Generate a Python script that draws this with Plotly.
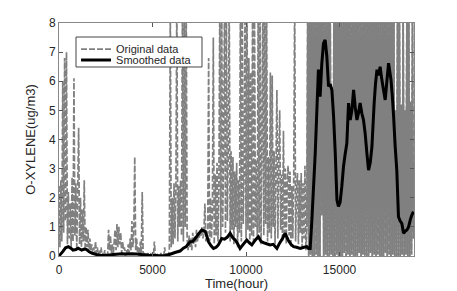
import plotly.graph_objects as go

# Original hourly data (sampled every 50 hours), ug/m3
orig_hours = list(range(0, 19000, 50))
orig_values = [
    2.4, 0.3, 2.6, 0.5, 6.0, 0.8, 6.8, 1.2, 7.0, 0.4,
    2.2, 0.6, 1.8, 0.3, 2.7, 0.5, 6.1, 0.7, 2.5, 0.2,
    2.3, 4.4, 0.4, 2.0, 0.3, 1.6, 0.5, 2.6, 0.2, 1.0,
    0.3, 0.9, 0.1, 0.6, 0.2, 0.4, 0.1, 0.3, 0.05, 0.5,
    0.1, 0.3, 0.0, 0.2, 0.1, 0.3, 0.0, 0.1, 0.0, 0.2,
    0.0, 0.1, 0.0, 0.9, 0.2, 0.7, 0.1, 0.4, 0.0, 0.5,
    0.9, 0.2, 1.1, 0.3, 1.0, 0.4, 0.8, 0.1, 0.5, 0.2,
    0.3, 0.0, 0.2, 0.0, 0.4, 0.1, 0.6, 0.2, 1.2, 0.3,
    0.9, 3.4, 0.2, 0.6, 0.1, 0.3, 0.0, 0.5, 0.1, 2.2,
    0.0, 0.1, 0.0, 0.05, 0.0, 0.1, 0.0, 0.0, 0.1, 0.0,
    0.0, 0.0, 0.5, 0.0, 0.0, 0.05, 0.0, 0.0, 0.0, 0.1,
    0.0, 0.0, 0.0, 0.3, 0.0, 0.0, 0.1, 0.0, 0.2, 8.5,
    0.3, 2.0, 0.4, 2.5, 0.6, 2.3, 9.0, 0.5, 2.4, 1.0,
    2.6, 0.7, 9.0, 0.5, 9.0, 1.0, 9.0, 0.6, 0.2, 0.7,
    0.3, 0.6, 0.2, 0.8, 0.4, 0.7, 0.3, 0.9, 0.5, 0.8,
    0.6, 0.9, 0.7, 1.0, 0.6, 0.9, 1.8, 0.5, 0.8, 0.8,
    6.8, 0.5, 2.0, 0.6, 1.5, 7.5, 0.4, 2.8, 0.7, 3.2,
    0.5, 2.5, 9.0, 0.6, 9.0, 1.0, 3.5, 9.0, 0.8, 9.0,
    1.2, 3.7, 9.0, 0.5, 3.6, 0.9, 3.4, 0.4, 2.9, 1.0,
    3.2, 0.3, 2.6, 0.8, 9.0, 0.5, 9.0, 1.1, 3.0, 9.0,
    0.6, 9.0, 0.9, 6.8, 0.4, 6.3, 0.7, 9.0, 0.5, 9.0,
    1.0, 3.3, 0.6, 9.0, 0.8, 9.0, 0.4, 3.8, 9.0, 0.7,
    9.0, 1.1, 9.0, 0.5, 3.4, 0.8, 6.3, 0.6, 6.2, 1.0,
    3.6, 0.4, 3.1, 5.7, 0.6, 3.3, 5.0, 0.9, 2.8, 0.5,
    4.3, 0.8, 3.0, 0.4, 2.6, 3.1, 0.7, 2.9, 0.3, 2.4,
    0.6, 2.7, 9.0, 0.5, 2.2, 2.85, 0.4, 2.6, 0.8, 2.85,
    0.3, 2.5, 0.6, 3.1, 0.2, 1.0, 9.0, 0.0, 9.0, 0.05,
    9.0, 0.0, 9.0, 0.0, 9.0, 0.05, 9.0, 0.0, 9.0, 0.0,
    9.0, 1.4, 9.0, 0.0, 9.0, 0.05, 9.0, 0.0, 9.0, 0.0,
    9.0, 0.05, 5.8, 0.0, 9.0, 0.0, 9.0, 0.05, 9.0, 0.0,
    9.0, 0.0, 9.0, 0.0, 9.0, 0.1, 9.0, 0.0, 9.0, 0.05,
    9.0, 0.0, 9.0, 0.05, 9.0, 0.0, 9.0, 0.0, 9.0, 0.0,
    9.0, 0.1, 9.0, 0.0, 9.0, 0.05, 9.0, 0.0, 9.0, 0.0,
    9.0, 0.0, 9.0, 0.1, 9.0, 0.0, 9.0, 0.05, 9.0, 0.0,
    9.0, 0.05, 9.0, 0.0, 9.0, 0.0, 9.0, 0.0, 9.0, 0.1,
    9.0, 0.0, 9.0, 0.05, 9.0, 0.0, 9.0, 0.05, 9.0, 0.0,
    5.0, 0.0, 9.0, 0.0, 9.0, 0.0, 5.2, 0.05, 9.0, 0.0,
    5.0, 0.05, 9.0, 0.0, 9.0, 0.0, 5.3, 0.05, 9.0, 0.6,
]
# start index of the densely sampled high-concentration period (~13250 h)
dense_start = 265

# Smoothed series
smooth_hours = [
    0, 50, 200, 350, 500, 650, 750, 900, 1030, 1210, 1350, 1480, 1600, 1750,
    2000, 2280, 2600, 2900, 3350, 3600, 3890, 4150, 4420, 4800, 5130, 5400,
    5670, 5940, 6200, 6470, 6650, 6800, 7010, 7150, 7280, 7450, 7630, 7810,
    7900, 7990, 8130, 8260, 8400, 8520, 8700, 8850, 9000, 9150, 9300, 9420,
    9550, 9680, 9850, 10040, 10180, 10310, 10500, 10660, 10800, 10930, 11100,
    11290, 11450, 11650, 11800, 11950, 12090, 12250, 12400, 12540, 12700,
    12900, 13100, 13250, 13340, 13430, 13520, 13700, 13870, 13960, 14050,
    14140, 14230, 14320, 14410, 14500, 14590, 14680, 14770, 14860, 14940,
    15030, 15120, 15210, 15300, 15390, 15480, 15570, 15660, 15750, 15840,
    15930, 16010, 16100, 16190, 16280, 16370, 16460, 16550, 16640, 16730,
    16790, 16850, 16920, 17000, 17080, 17170, 17250, 17320, 17440, 17530,
    17620, 17750, 17820, 17890, 17970, 18060, 18150, 18240, 18330, 18420,
    18510, 18600, 18690, 18780, 18860, 18950,
]
smooth_values = [
    0.0, 0.04, 0.15, 0.28, 0.32, 0.26, 0.2, 0.22, 0.27, 0.2, 0.24, 0.22, 0.15, 0.1,
    0.05, 0.02, 0.03, 0.05, 0.08, 0.07, 0.08, 0.07, 0.05, 0.03, 0.02, 0.01,
    0.02, 0.06, 0.12, 0.17, 0.27, 0.32, 0.49, 0.5, 0.6, 0.75, 0.89, 0.85,
    0.7, 0.49, 0.35, 0.26, 0.3, 0.38, 0.6, 0.58, 0.65, 0.78, 0.62, 0.55,
    0.42, 0.26, 0.4, 0.55, 0.45, 0.38, 0.55, 0.66, 0.5, 0.46, 0.42,
    0.38, 0.4, 0.26, 0.45, 0.6, 0.78, 0.55, 0.4, 0.32, 0.3,
    0.26, 0.3, 0.32, 0.26, 0.26, 1.24, 3.53, 6.4, 5.47, 6.6,
    7.3, 7.42, 6.85, 5.82, 5.9, 5.7, 4.8, 3.53, 1.92, 1.7,
    1.85, 2.38, 3.07, 3.5, 3.87, 5.25, 4.67, 5.0, 5.7, 5.1,
    4.67, 4.9, 5.25, 4.9, 4.67, 4.2, 3.53, 2.95, 3.2, 3.75,
    4.5, 5.25, 5.9, 6.4, 6.2, 6.5, 6.1, 5.82, 5.36, 6.0,
    6.62, 6.05, 5.5, 4.79, 3.8, 2.95, 1.35, 1.2, 1.12, 0.78,
    0.85, 0.89, 1.0, 1.24, 1.4, 1.52,
]

x_ticks = [0, 5000, 10000, 15000]
y_ticks = [0, 1, 2, 3, 4, 5, 6, 7, 8]

FONT = "Liberation Sans, Arial, sans-serif"
GRAY = "#808080"
TXT = "#262626"

fig = go.Figure()
fig.add_trace(go.Scatter(
    x=orig_hours, y=orig_values, mode="lines", name="Original data",
    legendgroup="orig", legend="legend",
    line=dict(color=GRAY, width=1.7, dash="6px,2px", simplify=False),
))
# overlapping dashes in the densely sampled period merge into solid grey
fig.add_trace(go.Scatter(
    x=orig_hours[dense_start:], y=orig_values[dense_start:], mode="lines",
    name="Original data", legendgroup="orig", showlegend=False,
    line=dict(color=GRAY, width=1.5, simplify=False),
))
fig.add_trace(go.Scatter(
    x=smooth_hours, y=smooth_values, mode="lines", name="Smoothed data",
    legend="legend2",
    line=dict(color="black", width=3, simplify=False),
))

axis_common = dict(
    showline=True, linecolor="#888888", linewidth=1, mirror="ticks",
    ticks="inside", ticklen=4, tickcolor="#555555", tickwidth=1,
    showgrid=False, zeroline=False, automargin=False,
    tickfont=dict(family=FONT, size=12, color=TXT),
)

legend_common = dict(
    xanchor="left", yanchor="top", bgcolor="rgba(0,0,0,0)", borderwidth=0,
    font=dict(family=FONT, size=11, color=TXT), itemwidth=30,
)

# the page body adds an 8px offset, so the figure is 8px smaller
fig.update_layout(
    width=449, height=283,
    margin=dict(l=51, r=43, t=15, b=35),
    paper_bgcolor="white", plot_bgcolor="white",
    font=dict(family=FONT, size=12, color=TXT),
    showlegend=True,
    legend=dict(x=0.048, y=0.95, **legend_common),
    legend2=dict(x=0.048, y=0.903, **legend_common),
    shapes=[dict(
        type="rect", xref="paper", yref="paper",
        x0=0.0479, x1=0.4028, y0=0.8112, y1=0.9399,
        line=dict(color="#444444", width=1), fillcolor="white", layer="above",
    )],
)
fig.update_xaxes(
    range=[0, 18980], tickvals=x_ticks, ticktext=[str(v) for v in x_ticks],
    ticklabelstandoff=3,
    title=dict(text="Time(hour)", font=dict(family=FONT, size=13, color=TXT), standoff=3),
    **axis_common,
)
fig.update_yaxes(
    range=[0, 8], tickvals=y_ticks, ticktext=[str(v) for v in y_ticks],
    title=dict(text="O-XYLENE(ug/m3)", font=dict(family=FONT, size=13, color=TXT), standoff=10),
    **axis_common,
)

fig.write_html("out.html")
